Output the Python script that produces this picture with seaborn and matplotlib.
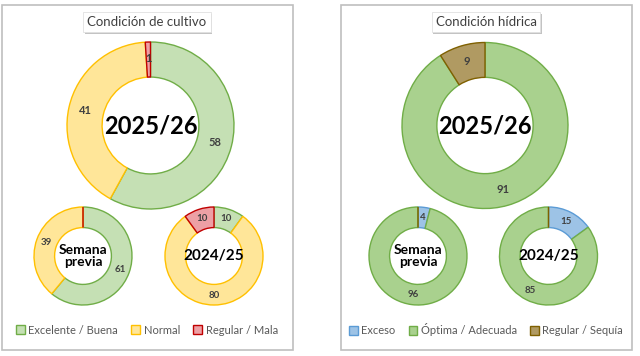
import numpy as np
import matplotlib
matplotlib.use("Agg")
import matplotlib.pyplot as plt
import matplotlib.patheffects as pe
import seaborn as sns
from matplotlib.patches import Patch, Rectangle

sns.set_theme(style="white")
plt.rcParams['font.family'] = ['Lato', 'DejaVu Sans']

# Datos
cultivo_cats = ["Excelente / Buena", "Normal", "Regular / Mala"]
cultivo_actual = [58, 41, 1]
cultivo_previa = [61, 39, 0]
cultivo_anterior = [10, 80, 10]

hidrica_cats = ["Exceso", "Óptima / Adecuada", "Regular / Sequía"]
hidrica_actual = [0, 91, 9]
hidrica_previa = [4, 96, 0]
hidrica_anterior = [15, 85, 0]

cultivo_fill = ['#C5E0B4', '#FFE699', '#EDA0A5']
cultivo_edge = ['#70AD47', '#FFC000', '#C00000']
hidrica_fill = ['#9DC3E6', '#A9D18E', '#B09A62']
hidrica_edge = ['#5B9BD5', '#70AD47', '#7F6000']

W, H = 640, 356
fig = plt.figure(figsize=(6.4, 3.56), dpi=100)


def donut(cx, cy, r, valores, fill, edge, centro, fs_centro, fs_val):
    ax = fig.add_axes([(cx - 1.05 * r) / W, (H - cy - 1.05 * r) / H,
                       2.1 * r / W, 2.1 * r / H])
    wedges, _ = ax.pie(valores, colors=fill, startangle=90, counterclock=False,
                       wedgeprops=dict(width=0.42, linewidth=1.0))
    for w, e in zip(wedges, edge):
        w.set_edgecolor(e)
    for w, v in zip(wedges, valores):
        if v == 0:
            continue
        ang = np.deg2rad((w.theta1 + w.theta2) / 2)
        ax.text(0.8 * np.cos(ang), 0.8 * np.sin(ang), str(v), ha='center',
                va='center', fontsize=fs_val, color='#404040', fontweight='bold')
    ax.text(0, 0, centro, ha='center', va='center', fontsize=fs_centro,
            fontweight='bold', color='black', linespacing=1.0)
    ax.set_xlim(-1.05, 1.05)
    ax.set_ylim(-1.05, 1.05)
    ax.set_aspect('equal')
    ax.axis('off')
    return ax


# Marcos de los paneles
for x0, x1 in [(2, 293), (341, 632)]:
    fig.patches.append(Rectangle((x0 / W, 1 - 350 / H), (x1 - x0) / W, 345 / H,
                                 transform=fig.transFigure, fill=False,
                                 edgecolor='#BFBFBF', linewidth=1.2))

# Titulos
for x, t in [(147, "Condición de cultivo"), (486, "Condición hídrica")]:
    txt = fig.text(x / W, 1 - 22 / H, t, ha='center', va='center', fontsize=9.5,
                   color='#404040',
                   bbox=dict(boxstyle='square,pad=0.3', facecolor='white',
                             edgecolor='#E0E0E0', linewidth=0.6))
    txt.get_bbox_patch().set_path_effects(
        [pe.withSimplePatchShadow(offset=(1.2, -1.2), shadow_rgbFace='#888888', alpha=0.5)])

# Condicion de cultivo
donut(150.5, 125.5, 83.5, cultivo_actual, cultivo_fill, cultivo_edge, "2025/26", 17, 8)
donut(83, 256, 49, cultivo_previa, cultivo_fill, cultivo_edge, "Semana\nprevia", 10, 7)
donut(214, 256, 49, cultivo_anterior, cultivo_fill, cultivo_edge, "2024/25", 11, 7)

# Condicion hidrica
donut(485, 125.5, 83, hidrica_actual, hidrica_fill, hidrica_edge, "2025/26", 17, 8)
donut(418, 256, 49, hidrica_previa, hidrica_fill, hidrica_edge, "Semana\nprevia", 10, 7)
donut(548.5, 256, 49, hidrica_anterior, hidrica_fill, hidrica_edge, "2024/25", 11, 7)

# Leyendas
for x, cats, fill, edge in [(147, cultivo_cats, cultivo_fill, cultivo_edge),
                            (486, hidrica_cats, hidrica_fill, hidrica_edge)]:
    handles = [Patch(facecolor=f, edgecolor=e, linewidth=1.0, label=c)
               for c, f, e in zip(cats, fill, edge)]
    fig.legend(handles=handles, loc='center', bbox_to_anchor=(x / W, 1 - 330 / H),
               ncol=3, frameon=False, fontsize=8, labelcolor='#595959',
               handlelength=0.8, handleheight=0.8, handletextpad=0.3,
               columnspacing=1.2, borderpad=0)

fig.savefig('out.png', dpi=100, facecolor='white')
